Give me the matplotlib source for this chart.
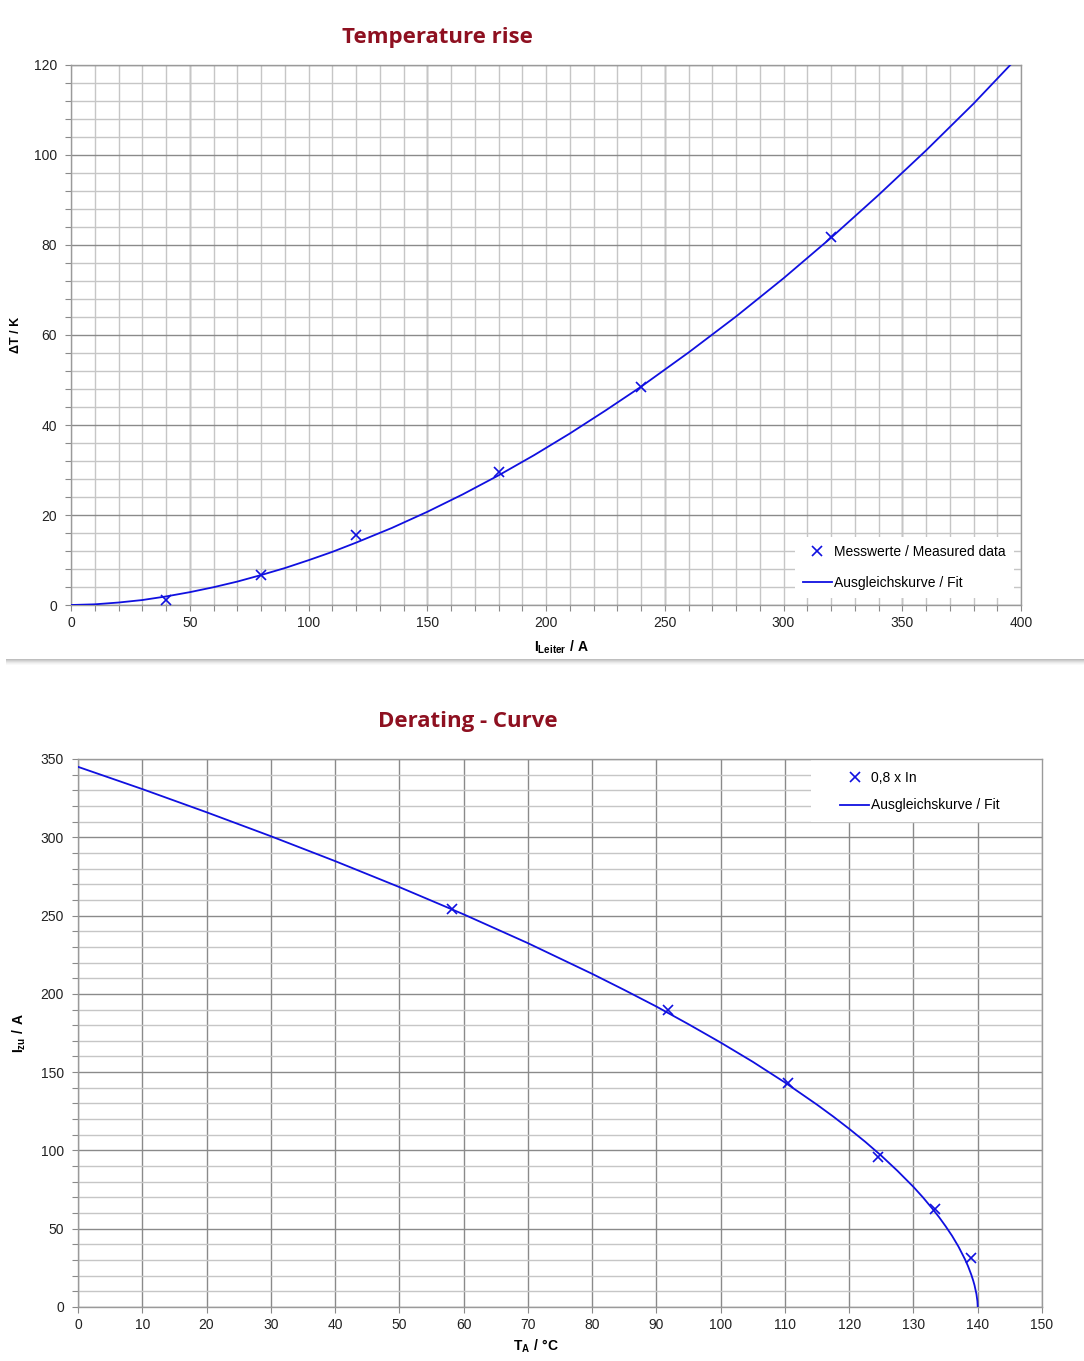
import matplotlib
matplotlib.use("Agg")
import matplotlib.pyplot as plt
import numpy as np
from matplotlib.patches import Rectangle
from matplotlib.ticker import MultipleLocator

plt.rcParams['font.family'] = ['Liberation Sans', 'DejaVu Sans']
plt.rcParams['mathtext.fontset'] = 'custom'
plt.rcParams['mathtext.rm'] = 'Liberation Sans'
plt.rcParams['mathtext.bf'] = 'Liberation Sans:bold'

# temperature rise: measured points and fit curve
current_meas = [40, 80, 120, 180, 240, 320]
dT_meas = [1.1, 6.7, 15.5, 29.6, 48.4, 81.8]
current_fit = [0, 10, 20, 30, 40, 50, 60, 70, 80, 90, 100, 110, 120, 135, 150, 165,
               180, 195, 210, 225, 240, 260, 280, 300, 320, 340, 360, 380, 398]
dT_fit = [0, 0.15, 0.55, 1.1, 1.9, 2.85, 3.95, 5.2, 6.65, 8.2, 9.95, 11.8, 13.85,
          17.1, 20.7, 24.6, 28.8, 33.3, 38.1, 43.2, 48.5, 56.1, 64.1, 72.6, 81.6,
          91.1, 101.0, 111.4, 121.4]

# derating curve
temp_meas = [58.2, 91.8, 110.4, 124.5, 133.3, 138.9]
i_meas = [254, 190, 143, 95.5, 62.8, 31.3]
temp_fit = [0, 10, 20, 30, 40, 50, 60, 70, 80, 85, 90, 95, 100, 105, 110, 115,
            117.5, 120, 122.5, 125, 127.5, 130, 131.5, 133, 134, 135, 136, 137,
            138, 138.5, 139, 139.3, 139.5, 139.8, 139.95, 140]
i_fit = [345, 330.8, 316.0, 300.7, 284.8, 268.2, 250.8, 232.4, 212.8, 202.5, 191.9,
         180.6, 168.9, 156.6, 143.4, 129.2, 121.7, 113.8, 105.5, 96.6, 87.0, 76.7,
         69.9, 62.5, 57.3, 51.6, 45.5, 38.6, 30.6, 26.0, 20.6, 16.8, 13.9, 8.2, 3.7, 0]

BLUE = '#1010e0'
TITLE_RED = '#8e1020'
LIGHT = '#c6c6c6'
DARK = '#8a8a8a'

W, H = 1084, 1361
fig = plt.figure(figsize=(W / 100, H / 100), dpi=100)


def px_axes(left, top, right, bottom):
    return fig.add_axes([left / W, 1 - bottom / H, (right - left) / W, (bottom - top) / H])


def base_style(ax):
    for s in ax.spines.values():
        s.set_color('#9a9a9a')
        s.set_linewidth(1.0)
    ax.tick_params(which='both', direction='out', length=4, width=0.8,
                   colors='#8a8a8a', labelcolor='#222222', labelsize=10)
    ax.tick_params(axis='y', pad=6)
    ax.tick_params(axis='x', pad=4)
    ax.set_axisbelow(True)


# card shadow between the two panels
for i, a in enumerate([0.45, 0.35, 0.25, 0.16, 0.09, 0.04]):
    fig.patches.append(Rectangle((6 / W, 1 - (660 + i) / H), 1 - 6 / W, 1 / H,
                                 transform=fig.transFigure, color='#707070',
                                 alpha=a, lw=0))

# ---- top: temperature rise ----
ax1 = px_axes(71, 65, 1021, 605)
base_style(ax1)
ax1.set_xlim(0, 400)
ax1.set_ylim(0, 120)
ax1.xaxis.set_major_locator(MultipleLocator(50))
ax1.xaxis.set_minor_locator(MultipleLocator(10))
ax1.yaxis.set_major_locator(MultipleLocator(20))
ax1.yaxis.set_minor_locator(MultipleLocator(4))
ax1.grid(which='minor', color=LIGHT, lw=1.0)
ax1.grid(which='major', axis='x', color=LIGHT, lw=1.0)
ax1.grid(which='major', axis='y', color=DARK, lw=1.0)
ax1.vlines(np.arange(50, 400, 100), 0, 120, color=DARK, lw=1.0, zorder=0.5)

fit1, = ax1.plot(current_fit, dT_fit, color=BLUE, lw=1.3, zorder=3)
meas1, = ax1.plot(current_meas, dT_meas, 'x', color=BLUE, ms=7, mew=1.2, zorder=4)
ax1.legend([meas1, fit1], ['Messwerte / Measured data', 'Ausgleichskurve / Fit'],
           loc='lower right', bbox_to_anchor=(1.0, 0.0), fontsize=10,
           frameon=True, fancybox=False, framealpha=1, edgecolor='none',
           facecolor='white', handlelength=2.1, handletextpad=0.15,
           labelspacing=1.2, borderpad=0.6)

ax1.set_ylabel('ΔT / K', fontsize=9, fontweight='bold')
ax1.yaxis.set_label_coords(-0.052, 0.5)
ax1.set_xlabel(r'$\mathbf{I_{Leiter}\ /\ A}$', fontsize=10)
ax1.xaxis.set_label_coords(0.517, -0.062)

fig.text(437 / W, 1 - 37 / H, 'Temperature rise', ha='center', va='center',
         fontsize=16, fontweight='bold', color=TITLE_RED, family=['Open Sans', 'DejaVu Sans'])

# ---- bottom: derating curve ----
ax2 = px_axes(78, 759, 1042, 1307)
base_style(ax2)
ax2.set_xlim(0, 150)
ax2.set_ylim(0, 350)
ax2.xaxis.set_major_locator(MultipleLocator(10))
ax2.yaxis.set_major_locator(MultipleLocator(50))
ax2.yaxis.set_minor_locator(MultipleLocator(10))
ax2.grid(which='minor', axis='y', color=LIGHT, lw=1.0)
ax2.grid(which='major', color=DARK, lw=1.0)

fit2, = ax2.plot(temp_fit, i_fit, color=BLUE, lw=1.3, zorder=3)
meas2, = ax2.plot(temp_meas, i_meas, 'x', color=BLUE, ms=7, mew=1.2, zorder=4)
ax2.legend([meas2, fit2], ['0,8 x In', 'Ausgleichskurve / Fit'],
           loc='upper right', bbox_to_anchor=(0.965, 0.993), fontsize=10,
           frameon=True, fancybox=False, framealpha=1, edgecolor='none',
           facecolor='white', handlelength=2.1, handletextpad=0.15,
           labelspacing=0.95, borderpad=0.5, borderaxespad=0.1)
# white patch extends the legend box to the right, as in the original
ax2.add_patch(Rectangle((0.76, 0.885), 0.24, 0.115, transform=ax2.transAxes,
                        facecolor='white', edgecolor='none', zorder=2.5))

ax2.set_ylabel(r'$\mathbf{I_{zu}\ /\ A}$', fontsize=10)
ax2.yaxis.set_label_coords(-0.052, 0.5)
ax2.set_xlabel(r'$\mathbf{T_{A}\ /\ °C}$', fontsize=10)
ax2.xaxis.set_label_coords(0.475, -0.055)

fig.text(468 / W, 1 - 722 / H, 'Derating - Curve', ha='center', va='center',
         fontsize=16, fontweight='bold', color=TITLE_RED, family=['Open Sans', 'DejaVu Sans'])

fig.savefig('out.png', dpi=100, facecolor='white')
